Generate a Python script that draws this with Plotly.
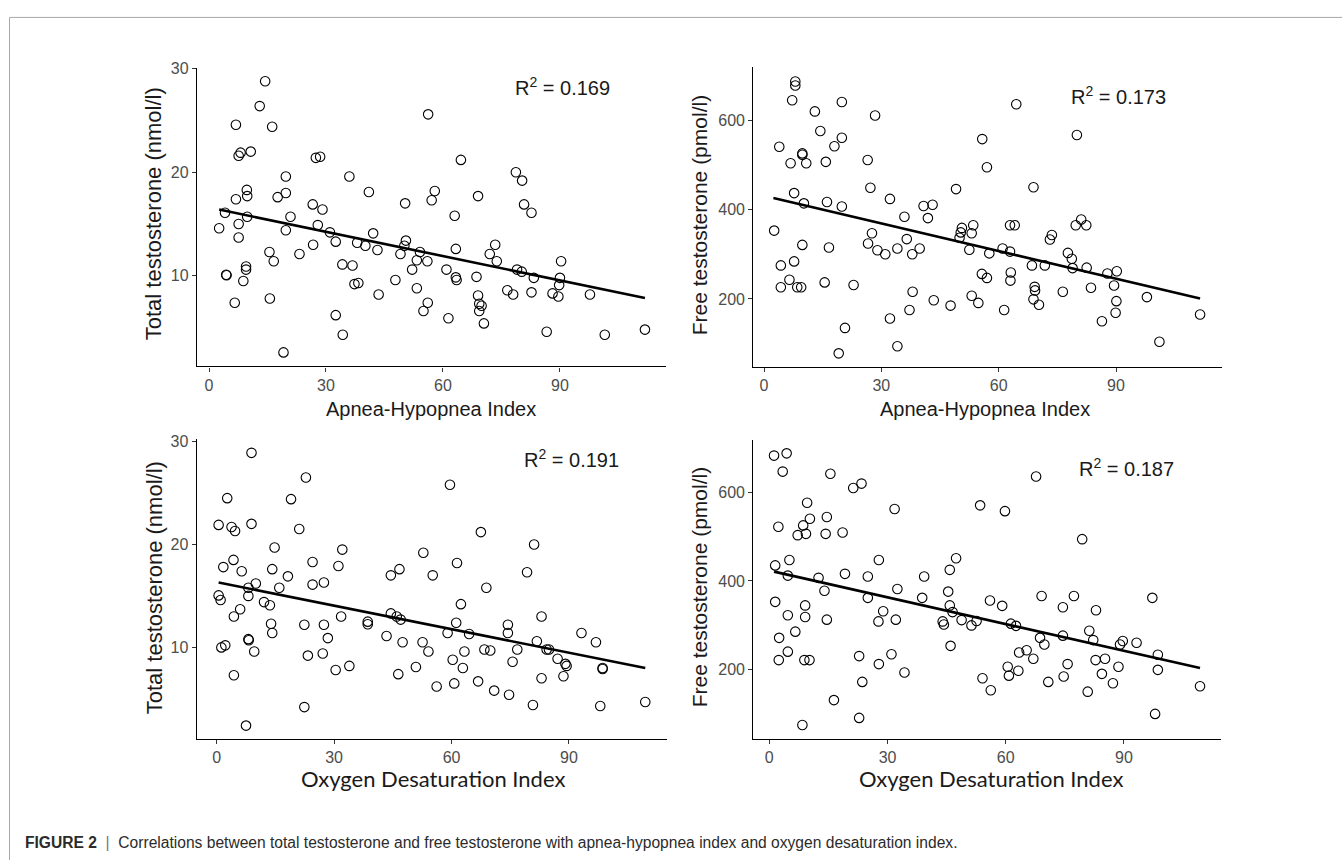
import plotly.graph_objects as go

W, H = 1342, 860

# ---------------- data ----------------
# Panel A: Apnea-Hypopnea Index vs Total testosterone
ahi_tt_x = [2.6, 4.1, 4.4, 4.5, 6.6, 6.9, 6.9, 7.6, 7.6, 7.6, 8.1, 10.7, 8.8, 9.7, 9.8, 9.8, 9.5, 9.5,
            14.4, 13.0, 16.2, 15.5, 16.6, 15.6, 17.6, 19.7, 19.7, 19.7, 20.9, 19.1, 23.2, 26.6, 26.7,
            27.4, 28.5, 29.1, 27.9, 31.0, 32.5, 32.5, 34.2, 34.3, 36.0, 36.8, 37.3, 38.3, 38.0, 40.1,
            41.0, 42.1, 43.2, 43.5, 47.8,
            56.2, 64.6, 78.7, 80.3, 57.9, 57.1, 50.3, 69.0, 63.0, 80.8, 82.7, 50.5, 50.1, 49.1, 54.1,
            53.3, 56.0, 52.1, 53.3, 56.1, 55.0, 61.4, 63.3, 60.9, 63.3, 63.5, 68.6, 69.0, 69.3, 69.9,
            69.3, 70.5, 73.4, 72.0, 73.8, 79.0, 80.2, 83.3, 76.5, 78.0, 82.7, 86.6, 90.3, 90.0, 89.8,
            88.1, 89.6, 97.7, 101.5, 111.8]
ahi_tt_y = [14.6, 16.1, 10.1, 10.05, 7.4, 24.6, 17.4, 15.0, 13.7, 21.6, 21.9, 22.0, 9.5, 18.3, 17.7, 15.7, 10.9, 10.6,
            28.8, 26.4, 24.4, 12.3, 11.4, 7.8, 17.6, 19.6, 18.0, 14.4, 15.7, 2.6, 12.1, 16.9, 13.0,
            21.4, 21.5, 16.4, 14.9, 14.2, 13.3, 6.2, 11.1, 4.3, 19.6, 11.0, 9.2, 9.3, 13.2, 12.9,
            18.1, 14.1, 12.5, 8.2, 9.6,
            25.6, 21.2, 20.0, 19.2, 18.2, 17.3, 17.0, 17.7, 15.8, 16.9, 16.1, 13.4, 12.9, 12.1, 12.3,
            11.5, 11.4, 10.6, 8.8, 7.4, 6.6, 5.9, 12.6, 10.6, 9.85, 9.6, 9.9, 8.1, 7.3, 7.1,
            6.6, 5.4, 13.0, 12.1, 11.4, 10.6, 10.4, 9.8, 8.6, 8.2, 8.4, 4.6, 11.4, 9.8, 9.1,
            8.3, 8.0, 8.2, 4.3, 4.8]
ahi_tt_fit_x = [2.6, 111.8]
ahi_tt_fit_y = [16.4, 7.85]

# Panel B: Apnea-Hypopnea Index vs Free testosterone
ahi_ft_x = [2.6, 3.9, 4.3, 4.3, 6.5, 7.2, 8.0, 8.0, 7.7, 7.7, 6.8, 8.5, 9.5, 9.8, 9.8, 10.8, 10.2, 9.8,
            13.0, 14.4, 15.8, 16.1, 15.5, 16.6, 18.0, 19.9, 19.9, 19.9, 19.1, 20.7, 22.9, 26.5, 27.2,
            27.6, 26.6, 28.4, 29.0, 31.0, 32.2, 32.2, 34.1, 34.1, 35.9, 36.5, 37.9, 38.0, 37.2, 39.8,
            40.8, 43.1, 41.9, 43.4,
            47.7, 49.1, 50.6, 50.3, 50.0, 53.5, 53.1, 52.5, 55.8, 57.0, 57.6, 55.7, 57.0, 53.1, 54.8,
            61.0, 62.9, 61.4, 62.9, 64.1, 63.1, 63.0, 64.5, 68.9, 68.5, 69.2, 69.3, 68.9, 70.3, 71.8,
            73.6, 73.1, 76.4, 77.7, 78.7, 78.9, 80.0, 79.7, 81.1, 82.4, 82.5, 83.6, 86.4, 87.8, 90.2,
            89.5, 90.1, 89.9, 97.9, 101.1, 111.5]
ahi_ft_y = [353, 541, 275, 226, 243, 645, 687, 678, 437, 284, 504, 226, 226, 526, 523, 504, 414, 321,
            620, 576, 507, 417, 237, 315, 542, 561, 641, 407, 78, 135, 231, 511, 449,
            347, 324, 611, 309, 300, 424, 156, 313, 94, 384, 334, 300, 216, 175, 313,
            408, 411, 381, 197,
            185, 446, 359, 349, 337, 365, 347, 310, 558, 495, 302, 256, 247, 207, 191,
            313, 306, 175, 365, 365, 259, 241, 636, 450, 275, 227, 219, 199, 187, 275,
            343, 333, 216, 303, 290, 269, 567, 365, 378, 365, 270, 225, 150, 257, 262,
            230, 195, 169, 204, 104, 165]
ahi_ft_fit_x = [2.4, 111.5]
ahi_ft_fit_y = [426, 201]

# Panel C: Oxygen Desaturation Index vs Total testosterone
odi_tt_x = [0.5, 1.0, 0.5, 2.7, 1.7, 1.2, 2.2, 3.8, 4.7, 4.3, 4.4, 4.4, 6.0, 6.4, 8.9, 8.9, 8.1, 8.1,
            8.1, 8.2, 9.6, 10.0, 7.5, 12.1, 13.6, 13.9, 14.2, 14.2, 14.8, 16.0, 18.2, 19.0, 21.1, 22.8,
            22.4, 23.3, 22.4, 24.5, 24.5, 27.4, 27.4, 28.4, 27.1, 30.4, 31.1, 31.8, 32.1, 33.9, 38.6,
            38.6, 43.4, 44.5, 46.0, 44.5, 46.4, 46.7,
            47.0, 52.8, 59.6, 55.2, 61.4, 67.5, 68.9, 81.1, 79.3, 62.4, 61.2, 59.0, 64.5, 47.5, 52.6,
            54.1, 50.9, 56.2, 60.3, 62.9, 63.3, 60.7, 66.8, 68.4, 69.9, 70.9, 74.4, 74.4, 75.6, 76.8,
            74.7, 80.8, 83.0, 81.8, 84.3, 84.9, 83.0, 87.1, 89.1, 89.4, 88.6, 93.2, 96.9, 98.6, 98.6,
            98.0, 109.5]
odi_tt_y = [15.05, 14.6, 21.9, 24.5, 17.8, 10.0, 10.2, 21.7, 21.3, 18.5, 13.0, 7.3, 13.7, 17.4, 28.9, 22.0, 15.8, 15.0,
            10.8, 10.7, 9.6, 16.2, 2.4, 14.4, 14.1, 12.3, 11.4, 17.6, 19.7, 15.8, 16.9, 24.4, 21.5, 26.5,
            12.2, 9.2, 4.2, 18.3, 16.1, 16.3, 12.2, 10.9, 9.4, 7.8, 17.9, 13.0, 19.5, 8.2, 12.5,
            12.25, 11.1, 13.3, 13.0, 17.0, 7.4, 17.6,
            12.7, 19.2, 25.8, 17.0, 18.2, 21.2, 15.8, 20.0, 17.3, 14.2, 12.4, 11.4, 11.3, 10.5, 10.5,
            9.6, 8.1, 6.2, 8.8, 8.0, 9.6, 6.5, 6.7, 9.8, 9.7, 5.8, 12.2, 11.4, 8.6, 9.8,
            5.4, 4.4, 13.0, 10.6, 9.8, 9.8, 7.0, 8.9, 8.4, 8.2, 7.2, 11.4, 10.5, 8.0, 7.9,
            4.3, 4.7]
odi_tt_fit_x = [0.5, 109.5]
odi_tt_fit_y = [16.3, 8.0]

# Panel D: Oxygen Desaturation Index vs Free testosterone
odi_ft_x = [1.2, 4.4, 3.4, 2.3, 1.5, 1.5, 5.1, 4.7, 2.5, 2.4, 4.7, 4.7, 6.6, 7.2, 8.6, 9.6, 10.3, 9.3,
            9.1, 9.1, 8.9, 10.2, 8.4, 12.5, 14.0, 14.6, 14.3, 14.6, 15.5, 16.4, 18.6, 19.2, 21.3, 23.4,
            25.0, 25.0, 22.8, 23.6, 22.8, 27.8, 27.7, 28.9, 27.8, 31.0, 31.8, 32.5, 32.1, 34.3, 38.8,
            39.3, 44.0, 44.3, 45.8, 45.4, 45.8, 46.0,
            47.4, 46.5, 48.8, 51.3, 52.6, 53.5, 56.0, 54.1, 56.2, 59.1, 59.8, 61.3, 62.6, 60.5, 60.8,
            63.2, 63.4, 65.3, 67.0, 67.7, 69.1, 68.7, 69.8, 70.8, 74.5, 74.5, 77.3, 75.7, 74.7, 79.4,
            81.2, 82.2, 82.9, 82.8, 85.2, 84.4, 87.2, 80.8, 88.6, 89.0, 89.7, 93.2, 97.2, 98.6, 98.6,
            97.9, 109.3]
odi_ft_y = [682, 687, 646, 522, 435, 353, 447, 412, 272, 222, 323, 241, 286, 503, 525, 576, 540, 506,
            345, 319, 222, 222, 76, 407, 378, 544, 506, 313, 641, 132, 509, 416, 609, 619,
            410, 362, 231, 173, 92, 447, 309, 332, 213, 235, 562, 382, 313, 194, 362,
            410, 309, 302, 425, 376, 345, 254,
            451, 330, 312, 300, 310, 570, 356, 181, 154, 344, 557, 304, 299, 207, 187,
            198, 239, 244, 225, 635, 366, 272, 257, 173, 341, 277, 366, 213, 185, 494,
            288, 267, 334, 222, 225, 191, 170, 151, 207, 257, 265, 261, 362, 234, 200,
            101, 163]
odi_ft_fit_x = [1.2, 109.3]
odi_ft_fit_y = [421, 204]

x_ticks = [0, 30, 60, 90]
tt_ticks = [10, 20, 30]
ft_ticks = [200, 400, 600]

r2_labels = ["0.169", "0.173", "0.191", "0.187"]
x_titles = ["Apnea-Hypopnea Index", "Apnea-Hypopnea Index",
            "Oxygen Desaturation Index", "Oxygen Desaturation Index"]
y_titles = ["Total testosterone (nmol/l)", "Free testosterone (pmol/l)",
            "Total testosterone (nmol/l)", "Free testosterone (pmol/l)"]
caption_bold = "FIGURE 2"
caption_text = ("Correlations between total testosterone and free testosterone with "
                "apnea-hypopnea index and oxygen desaturation index.")

# ---------------- layout helpers (pixel geometry) ----------------
def fx(p):
    return p / W

def fy(p):
    return 1 - p / H

ARIAL = "Liberation Sans, Arial, Helvetica, sans-serif"
CALIBRI = "Lato, Carlito, Calibri, Open Sans, sans-serif"

panels = [
    dict(x=ahi_tt_x, y=ahi_tt_y, fxv=ahi_tt_fit_x, fyv=ahi_tt_fit_y,
         dom_x=(197, 666), dom_y=(61.3, 362.3), xr=[-3.08, 117.2], yr=[1.25, 30.1],
         yt=tt_ticks, r2=(513, 80), ytl=(153.5, 208.5), ysize=22, xtl=(431, 405),
         xfont=ARIAL, xsize=20),
    dict(x=ahi_ft_x, y=ahi_ft_y, fxv=ahi_ft_fit_x, fyv=ahi_ft_fit_y,
         dom_x=(753.3, 1221.6), dom_y=(60, 362.7), xr=[-2.74, 117.0], yr=[48, 720.6],
         yt=ft_ticks, r2=(1069, 89), ytl=(699, 210), ysize=21, xtl=(985, 405),
         xfont=ARIAL, xsize=20),
    dict(x=odi_tt_x, y=odi_tt_y, fxv=odi_tt_fit_x, fyv=odi_tt_fit_y,
         dom_x=(196.7, 666.8), dom_y=(436, 737.7), xr=[-5.1, 115.0], yr=[1.13, 30.2],
         yt=tt_ticks, r2=(521.7, 455.5), ytl=(154, 586), ysize=22, xtl=(432.5, 778),
         xfont=CALIBRI, xsize=22),
    dict(x=odi_ft_x, y=odi_ft_y, fxv=odi_ft_fit_x, fyv=odi_ft_fit_y,
         dom_x=(753.3, 1221.3), dom_y=(436.3, 737.7), xr=[-4.06, 114.7], yr=[45.2, 717.6],
         yt=ft_ticks, r2=(1076.7, 464), ytl=(699, 585), ysize=21, xtl=(991, 778),
         xfont=CALIBRI, xsize=22),
]

fig = go.Figure()
annotations = []
layout_axes = {}

for i, p in enumerate(panels):
    k = "" if i == 0 else str(i + 1)
    xa, ya = "x" + k, "y" + k
    fig.add_trace(go.Scatter(
        x=p["x"], y=p["y"], mode="markers", xaxis=xa, yaxis=ya,
        marker=dict(symbol="circle-open", size=9.5, color="black", line=dict(width=1.1)),
        showlegend=False, hoverinfo="skip"))
    fig.add_trace(go.Scatter(
        x=p["fxv"], y=p["fyv"], mode="lines", xaxis=xa, yaxis=ya,
        line=dict(color="black", width=2.6), showlegend=False, hoverinfo="skip"))

    common = dict(showgrid=False, zeroline=False, showline=True, linecolor="black",
                  linewidth=1.3, ticks="outside", ticklen=4, tickwidth=1, tickcolor="#333333",
                  tickfont=dict(family=ARIAL, size=16, color="#4d4d4d"), fixedrange=True)
    layout_axes["xaxis" + k] = dict(
        common, domain=[fx(p["dom_x"][0]), fx(p["dom_x"][1])], range=p["xr"],
        tickvals=x_ticks, anchor=ya)
    layout_axes["yaxis" + k] = dict(
        common, domain=[fy(p["dom_y"][1]), fy(p["dom_y"][0])], range=p["yr"],
        tickvals=p["yt"], anchor=xa)

    annotations.append(dict(
        text="R<sup>2</sup> = " + r2_labels[i], xref="paper", yref="paper",
        x=fx(p["r2"][0]), y=fy(p["r2"][1]), xanchor="left", yanchor="middle",
        showarrow=False, font=dict(family=ARIAL, size=20, color="#1a1a1a")))
    annotations.append(dict(
        text=y_titles[i], xref="paper", yref="paper", textangle=-90,
        x=fx(p["ytl"][0]), y=fy(p["ytl"][1]), xanchor="center", yanchor="middle",
        showarrow=False, font=dict(family=ARIAL, size=p["ysize"], color="#1a1a1a")))
    annotations.append(dict(
        text=x_titles[i], xref="paper", yref="paper",
        x=fx(p["xtl"][0]), y=fy(p["xtl"][1]), xanchor="center", yanchor="middle",
        showarrow=False, font=dict(family=p["xfont"], size=p["xsize"], color="#1a1a1a")))

annotations.append(dict(
    text="<b>" + caption_bold + "</b>  <span style='color:#777'>|</span>  " + caption_text,
    xref="paper", yref="paper", x=fx(23), y=fy(842), xanchor="left", yanchor="middle",
    showarrow=False,
    font=dict(family="Liberation Sans Narrow, Arial Narrow, Liberation Sans, sans-serif",
              size=15.6, color="#2b2b2b")))

shapes = [
    dict(type="line", xref="paper", yref="paper", x0=fx(9.5), x1=1, y0=fy(10.5), y1=fy(10.5),
         line=dict(color="#a8a8a8", width=1)),
    dict(type="line", xref="paper", yref="paper", x0=fx(9.5), x1=fx(9.5), y0=fy(10.5), y1=0,
         line=dict(color="#a8a8a8", width=1)),
]

fig.update_layout(
    width=W, height=H, margin=dict(l=0, r=0, t=0, b=0),
    paper_bgcolor="white", plot_bgcolor="white",
    annotations=annotations, shapes=shapes, **layout_axes)

fig.write_html(
    "out.html",
    config={"displayModeBar": False},
    post_script="document.body.style.margin='0';document.body.style.overflow='hidden';")
